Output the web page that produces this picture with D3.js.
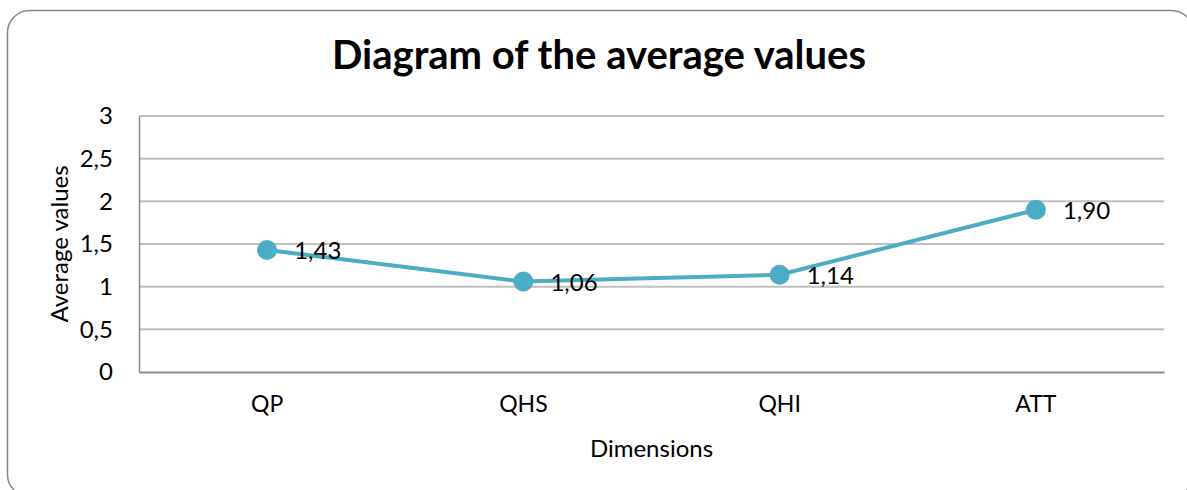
<!DOCTYPE html>
<html>
<head>
<meta charset="utf-8">
<script src="https://cdn.jsdelivr.net/npm/d3@7"></script>
<style>
  body { margin: 0; background: #fff; }
  svg { display: block; font-family: Lato, 'Open Sans', sans-serif; }
</style>
</head>
<body>
<svg width="1187" height="490"></svg>
<script>
const dimensions = ['QP', 'QHS', 'QHI', 'ATT']
const averages = [1.43, 1.06, 1.14, 1.90]
const yTicks = [0, 0.5, 1, 1.5, 2, 2.5, 3]

const svg = d3.select('svg')
const margin = { left: 139, right: 23, top: 116, bottom: 118 }
const width = +svg.attr('width')
const height = +svg.attr('height')
const fontFamily = 'Lato'
const fmt = d => d3.format('.2f')(d).replace('.', ',')
const tickFmt = d => String(d).replace('.', ',')

// outer chart frame
svg.append('rect')
    .attr('x', 7.5).attr('y', 10.5)
    .attr('width', 1186).attr('height', 486)
    .attr('rx', 22).attr('ry', 22)
    .attr('fill', '#fff')
    .attr('stroke', '#868686')
    .attr('stroke-width', 1.5)

let x = d3.scaleBand()
    .domain(dimensions)
    .range([margin.left, width - margin.right])

let y = d3.scaleLinear()
    .domain([0, 3])
    .range([height - margin.bottom, margin.top])

// gridlines
svg.append('g')
  .selectAll('line')
  .data(yTicks.filter(d => d > 0))
  .enter().append('line')
    .attr('x1', margin.left).attr('x2', width - margin.right)
    .attr('y1', d => y(d)).attr('y2', d => y(d))
    .attr('stroke', '#bfbfbf')
    .attr('stroke-width', 2)

// y axis
let yAxis = svg.append('g')
    .attr('transform', 'translate(' + margin.left + ',0)')
    .call(d3.axisLeft(y).tickValues(yTicks).tickFormat(tickFmt).tickSize(0).tickPadding(26))
yAxis.select('.domain').attr('stroke', '#8c8c8c').attr('stroke-width', 1.5)
yAxis.selectAll('text')
    .attr('font-size', 24)
    .attr('fill', '#000')
    .attr('font-family', fontFamily)

// x axis
let xAxis = svg.append('g')
    .attr('transform', 'translate(0,' + y(0) + ')')
    .call(d3.axisBottom(x).tickSize(0).tickPadding(24))
xAxis.select('.domain').attr('stroke', '#8c8c8c').attr('stroke-width', 2)
xAxis.selectAll('text')
    .attr('font-size', 23)
    .attr('fill', '#000')
    .attr('font-family', fontFamily)

// title
svg.append('text')
    .text('Diagram of the average values')
    .attr('x', 599).attr('y', 69)
    .attr('text-anchor', 'middle')
    .attr('font-size', 40)
    .attr('font-weight', 700)

// axis titles
svg.append('text')
    .text('Dimensions')
    .attr('x', (margin.left + width - margin.right) / 2)
    .attr('y', 457)
    .attr('text-anchor', 'middle')
    .attr('font-size', 24)

svg.append('text')
    .text('Average values')
    .attr('transform', 'translate(68,' + y(1.5) + ') rotate(-90)')
    .attr('text-anchor', 'middle')
    .attr('font-size', 24)

// series line
let cx = d => x(d) + x.bandwidth() / 2
let line = d3.line()
    .x((d, i) => cx(dimensions[i]))
    .y(d => y(d))

svg.append('path')
    .datum(averages)
    .attr('d', line)
    .attr('fill', 'none')
    .attr('stroke', '#4bacc6')
    .attr('stroke-width', 4)

svg.append('g')
  .selectAll('circle')
  .data(averages)
  .enter().append('circle')
    .attr('cx', (d, i) => cx(dimensions[i]))
    .attr('cy', d => y(d))
    .attr('r', 10)
    .attr('fill', '#4bacc6')

svg.append('g')
  .selectAll('text')
  .data(averages)
  .enter().append('text')
    .text(d => fmt(d))
    .attr('x', (d, i) => cx(dimensions[i]) + 27)
    .attr('y', d => y(d) + 1)
    .attr('dy', '0.35em')
    .attr('font-size', 24)
    .attr('fill', '#000')
</script>
</body>
</html>
